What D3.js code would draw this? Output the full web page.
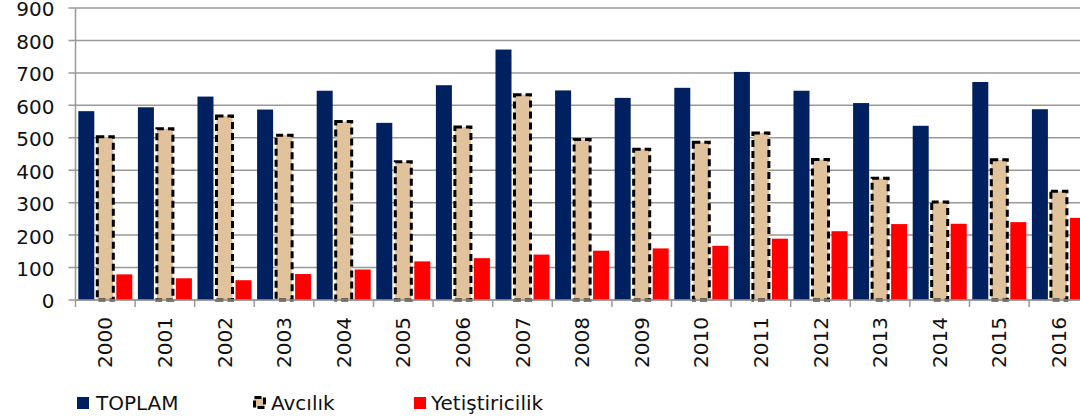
<!DOCTYPE html>
<html>
<head>
<meta charset="utf-8">
<script src="https://cdn.jsdelivr.net/npm/d3@7"></script>
<style>
  body { margin: 0; background: #fff; }
  svg { display: block; font-family: "DejaVu Sans", Verdana, sans-serif; }
</style>
</head>
<body>
<svg id="chart" width="1080" height="419"></svg>
<script>
var years = ["2000","2001","2002","2003","2004","2005","2006","2007","2008","2009","2010","2011","2012","2013","2014","2015","2016"];
var toplam = [582, 594, 627, 587, 645, 546, 662, 772, 646, 623, 654, 703, 645, 607, 537, 672, 588];
var avcilik = [503, 528, 567, 508, 550, 426, 533, 633, 495, 465, 486, 515, 433, 375, 302, 432, 335];
var yetistiricilik = [79, 67, 61, 80, 94, 119, 129, 140, 152, 159, 167, 189, 212, 234, 235, 240, 253];
var yTicks = [0, 100, 200, 300, 400, 500, 600, 700, 800, 900];
var seriesNames = ["TOPLAM", "Avcılık", "Yetiştiricilik"];

var series = [
  {name: seriesNames[0], values: toplam, fill: "#002060"},
  {name: seriesNames[1], values: avcilik, fill: "#e0c29c"},
  {name: seriesNames[2], values: yetistiricilik, fill: "#ff0000"}
];

var svg = d3.select("#chart");
var plotLeft = 75.5, plotTop = 8, plotBottom = 300;
var bandW = 59.6;
var fontSize = 20;

var x = d3.scaleBand().domain(years).range([plotLeft, plotLeft + bandW * years.length]);
var x1 = d3.scaleBand().domain(seriesNames).range([0, x.bandwidth()])
  .paddingInner(0.158).paddingOuter(0.147);
var y = d3.scaleLinear().domain([0, 900]).range([plotBottom, plotTop]);

// grid
svg.append("g").selectAll("line").data(yTicks).enter().append("line")
  .attr("x1", plotLeft - 7).attr("x2", 1080)
  .attr("y1", function(d) { return y(d); })
  .attr("y2", function(d) { return y(d); })
  .attr("stroke", "#999").attr("stroke-width", 1.5);

// y axis line
svg.append("line").attr("x1", plotLeft).attr("x2", plotLeft).attr("y1", plotTop).attr("y2", plotBottom)
  .attr("stroke", "#999").attr("stroke-width", 1.5);

// y labels
svg.append("g").selectAll("text").data(yTicks).enter().append("text")
  .attr("x", plotLeft - 21)
  .attr("y", function(d) { return y(d); })
  .attr("dy", "0.42em")
  .attr("text-anchor", "end")
  .attr("font-size", fontSize)
  .attr("fill", "#111")
  .text(function(d) { return d; });

// bars
var groups = svg.append("g").selectAll("g").data(series).enter().append("g");
groups.each(function(s) {
  var g = d3.select(this);
  var bars = g.selectAll("rect").data(s.values).enter().append("rect")
    .attr("x", function(d, i) { return x(years[i]) + x1(s.name); })
    .attr("y", function(d) { return y(d); })
    .attr("width", x1.bandwidth())
    .attr("height", function(d) { return y(0) - y(d); })
    .attr("fill", s.fill);
  if (s.name == "Avcılık") {
    bars.attr("stroke", "#000").attr("stroke-width", 3)
      .attr("stroke-dasharray", "7,4");
  }
});

// x axis line and ticks
svg.append("line").attr("x1", plotLeft).attr("x2", 1080).attr("y1", plotBottom).attr("y2", plotBottom)
  .attr("stroke", "#999").attr("stroke-width", 1.5);
svg.append("g").selectAll("line").data(years.concat(["end"])).enter().append("line")
  .attr("x1", function(d, i) { return plotLeft + i * x.step(); })
  .attr("x2", function(d, i) { return plotLeft + i * x.step(); })
  .attr("y1", plotBottom).attr("y2", plotBottom + 7)
  .attr("stroke", "#999").attr("stroke-width", 1.5);

// x labels
svg.append("g").selectAll("text").data(years).enter().append("text")
  .attr("transform", function(d) {
    return "translate(" + (x(d) + x.bandwidth() / 2) + "," + (plotBottom + 17) + ") rotate(-90)";
  })
  .attr("dy", "0.35em")
  .attr("text-anchor", "end")
  .attr("font-size", fontSize)
  .attr("fill", "#111")
  .text(function(d) { return d; });

// legend
var legX = [77, 253, 414];
var textOff = [19, 18, 17];
var leg = svg.append("g").selectAll("g").data(series).enter().append("g")
  .attr("transform", function(d, i) { return "translate(" + legX[i] + ",397)"; });
leg.append("rect")
  .attr("x", function(d, i) { return i == 1 ? 1.5 : 0; })
  .attr("y", function(d, i) { return i == 1 ? 0.5 : 0; })
  .attr("width", function(d, i) { return i == 1 ? 10 : 12; })
  .attr("height", function(d, i) { return i == 1 ? 10 : 12; })
  .attr("fill", function(d) { return d.fill; })
  .attr("stroke", function(d, i) { return i == 1 ? "#000" : "none"; })
  .attr("stroke-width", 3)
  .attr("stroke-dasharray", "7,3");
leg.append("text")
  .attr("x", function(d, i) { return textOff[i]; })
  .attr("y", 6)
  .attr("dy", "0.35em")
  .attr("font-size", fontSize)
  .attr("fill", "#111")
  .text(function(d) { return d.name; });
</script>
</body>
</html>
